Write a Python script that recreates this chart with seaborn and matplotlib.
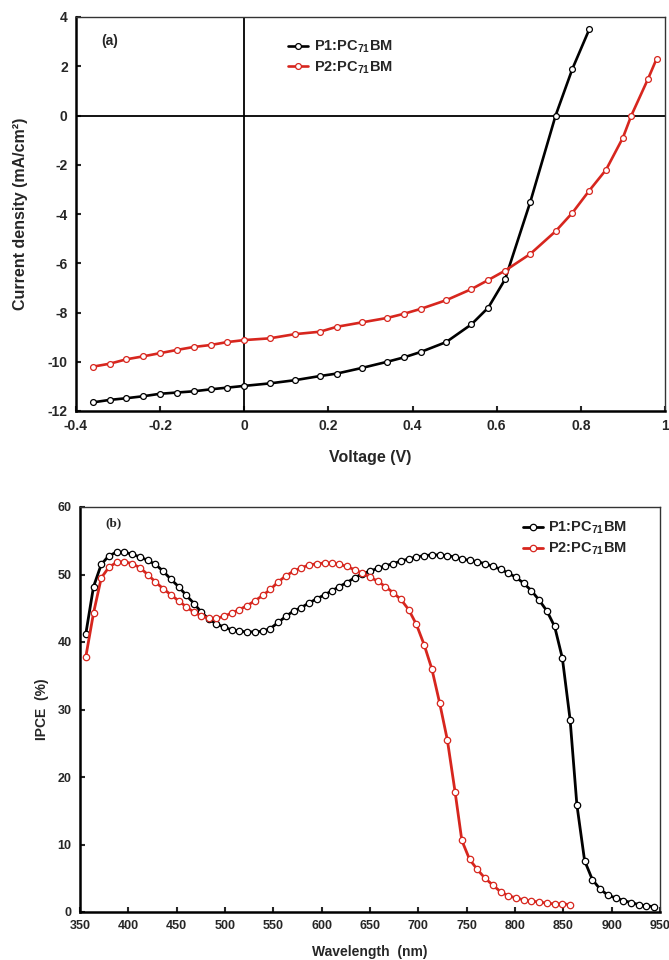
import numpy as np
import pandas as pd
import matplotlib
matplotlib.use("Agg")
import matplotlib.pyplot as plt
import seaborn as sns

# ---------------- data: J-V curves (panel a) ----------------
v_p1 = [-0.36, -0.32, -0.28, -0.24, -0.20, -0.16, -0.12, -0.08, -0.04, 0.00,
        0.06, 0.12, 0.18, 0.22, 0.28, 0.34, 0.38, 0.42, 0.48, 0.54,
        0.58, 0.62, 0.68, 0.74, 0.78, 0.82]
j_p1 = [-11.65, -11.55, -11.48, -11.40, -11.30, -11.25, -11.20, -11.12, -11.05, -10.98,
        -10.88, -10.75, -10.58, -10.48, -10.25, -10.00, -9.82, -9.60, -9.20, -8.48,
        -7.80, -6.65, -3.50, 0.00, 1.90, 3.50]

v_p2 = [-0.36, -0.32, -0.28, -0.24, -0.20, -0.16, -0.12, -0.08, -0.04, 0.00,
        0.06, 0.12, 0.18, 0.22, 0.28, 0.34, 0.38, 0.42, 0.48, 0.54,
        0.58, 0.62, 0.68, 0.74, 0.78, 0.82, 0.86, 0.90, 0.92, 0.96, 0.98]
j_p2 = [-10.20, -10.08, -9.90, -9.78, -9.65, -9.52, -9.40, -9.32, -9.20, -9.12,
        -9.05, -8.88, -8.78, -8.58, -8.40, -8.22, -8.05, -7.85, -7.50, -7.05,
        -6.68, -6.30, -5.62, -4.70, -3.95, -3.05, -2.20, -0.90, 0.00, 1.50, 2.30]

# ---------------- data: IPCE spectra (panel b) ----------------
wl_p1 = [356, 364, 372, 380, 388, 396, 404, 412, 420, 428, 436, 444, 452, 460, 468,
         475, 483, 491, 499, 507, 515, 523, 531, 539, 547, 555, 563, 571, 579, 587,
         595, 603, 611, 618, 626, 634, 642, 650, 658, 666, 674, 682, 690, 698, 706,
         714, 722, 730, 738, 745, 753, 761, 769, 777, 785, 793, 801, 809, 817, 825,
         833, 841, 849, 857, 864, 872, 880, 888, 896, 904, 912, 920, 928, 936, 944]
ipce_p1 = [41.2, 48.2, 51.5, 52.8, 53.3, 53.3, 53.0, 52.6, 52.1, 51.5, 50.5, 49.3, 48.2, 46.9, 45.7,
           44.5, 43.4, 42.7, 42.2, 41.8, 41.6, 41.5, 41.5, 41.6, 42.0, 42.9, 43.8, 44.6, 45.1, 45.8,
           46.4, 47.0, 47.6, 48.2, 48.8, 49.5, 50.1, 50.5, 50.9, 51.3, 51.6, 52.0, 52.3, 52.6, 52.8,
           52.9, 52.9, 52.8, 52.6, 52.3, 52.1, 51.9, 51.6, 51.2, 50.8, 50.2, 49.6, 48.7, 47.6, 46.2,
           44.6, 42.3, 37.6, 28.5, 15.9, 7.6, 4.8, 3.4, 2.5, 2.1, 1.7, 1.4, 1.1, 0.9, 0.8]

wl_p2 = [356, 364, 372, 380, 388, 396, 404, 412, 420, 428, 436, 444, 452, 460, 468,
         475, 483, 491, 499, 507, 515, 523, 531, 539, 547, 555, 563, 571, 579, 587,
         595, 603, 611, 618, 626, 634, 642, 650, 658, 666, 674, 682, 690, 698, 706,
         714, 722, 730, 738, 745, 753, 761, 769, 777, 785, 793, 801, 809, 817, 825,
         833, 841, 849, 857]
ipce_p2 = [37.8, 44.3, 49.5, 51.1, 51.8, 51.9, 51.6, 51.0, 50.0, 48.9, 47.9, 47.0, 46.1, 45.2, 44.4,
           43.9, 43.5, 43.5, 43.8, 44.3, 44.8, 45.4, 46.1, 46.9, 47.8, 48.9, 49.8, 50.5, 51.0, 51.4,
           51.6, 51.7, 51.7, 51.5, 51.2, 50.7, 50.2, 49.6, 49.0, 48.2, 47.3, 46.3, 44.8, 42.6, 39.6,
           36.0, 31.0, 25.5, 17.8, 10.6, 7.8, 6.3, 5.0, 4.0, 3.0, 2.4, 2.1, 1.8, 1.6, 1.5,
           1.3, 1.2, 1.2, 1.1]

labels = ["P1:PC$_{71}$BM", "P2:PC$_{71}$BM"]
colors = ["#000000", "#d7261e"]

xt_a = [-0.4, -0.2, 0, 0.2, 0.4, 0.6, 0.8, 1]
xt_a_lab = ["-0.4", "-0.2", "0", "0.2", "0.4", "0.6", "0.8", "1"]
yt_a = [-12, -10, -8, -6, -4, -2, 0, 2, 4]
xt_b = [350, 400, 450, 500, 550, 600, 650, 700, 750, 800, 850, 900, 950]
yt_b = [0, 10, 20, 30, 40, 50, 60]

# ---------------- style ----------------
sns.set_style("white")
plt.rcParams["font.family"] = ["Liberation Sans", "DejaVu Sans"]
plt.rcParams["font.weight"] = "bold"
plt.rcParams["axes.labelweight"] = "bold"
plt.rcParams["axes.unicode_minus"] = False
plt.rcParams["mathtext.fontset"] = "custom"
plt.rcParams["mathtext.rm"] = "Liberation Sans:bold"
plt.rcParams["mathtext.bf"] = "Liberation Sans:bold"
plt.rcParams["mathtext.it"] = "Liberation Sans:bold"
plt.rcParams["mathtext.default"] = "bf"

fig = plt.figure(figsize=(6.69, 9.6), dpi=100)
ax1 = fig.add_axes([76 / 669, 1 - 411 / 960, 589 / 669, 394 / 960])
ax2 = fig.add_axes([80 / 669, 1 - 912 / 960, 580 / 669, 405 / 960])

def style_axes(ax, fs):
    for s in ["left", "bottom"]:
        ax.spines[s].set_linewidth(1.8)
        ax.spines[s].set_color("black")
    for s in ["top", "right"]:
        ax.spines[s].set_linewidth(1.0)
        ax.spines[s].set_color("#333333")
    ax.tick_params(axis="both", which="major", direction="in", length=3.5, width=1.5,
                   labelsize=fs, pad=6, top=False, right=False, bottom=True, left=True)
    for t in ax.get_xticklabels() + ax.get_yticklabels():
        t.set_fontweight("bold")

# ---------------- panel a ----------------
df_a = pd.concat([
    pd.DataFrame({"V": v_p1, "J": j_p1, "s": labels[0]}),
    pd.DataFrame({"V": v_p2, "J": j_p2, "s": labels[1]}),
])
ax1.axhline(0, color="black", lw=1.3, zorder=1)
ax1.axvline(0, color="black", lw=1.3, zorder=1)
for lab, col in zip(labels, colors):
    d = df_a[df_a["s"] == lab]
    sns.lineplot(data=d, x="V", y="J", ax=ax1, color=col, lw=1.9, marker="o",
                 markersize=4.2, markerfacecolor="white", markeredgecolor=col,
                 markeredgewidth=0.9, estimator=None, sort=False, label=lab, zorder=3)
ax1.set_xlim(-0.4, 1.0)
ax1.set_ylim(-12, 4)
ax1.set_xticks(xt_a)
ax1.set_xticklabels(xt_a_lab)
ax1.set_yticks(yt_a)
style_axes(ax1, 10)
ax1.set_xlabel("Voltage (V)", fontsize=11.5, fontweight="bold")
ax1.set_ylabel("Current density (mA/cm²)", fontsize=11.5, fontweight="bold")
ax1.xaxis.set_label_coords(0.5, -0.099)
ax1.yaxis.set_label_coords(-0.081, 0.5)
ax1.text(0.043, 0.94, "(a)", transform=ax1.transAxes, fontsize=10, fontweight="bold",
         ha="left", va="center")
ax1.legend(loc="upper left", bbox_to_anchor=(0.36, 0.945), frameon=False, fontsize=10.5,
           handlelength=1.4, handletextpad=0.35, labelspacing=0.3, borderpad=0,
           borderaxespad=0)

# ---------------- panel b ----------------
df_b = pd.concat([
    pd.DataFrame({"wl": wl_p1, "ipce": ipce_p1, "s": labels[0]}),
    pd.DataFrame({"wl": wl_p2, "ipce": ipce_p2, "s": labels[1]}),
])
for lab, col in zip(labels, colors):
    d = df_b[df_b["s"] == lab]
    sns.lineplot(data=d, x="wl", y="ipce", ax=ax2, color=col, lw=2.0, marker="o",
                 markersize=4.6, markerfacecolor="white", markeredgecolor=col,
                 markeredgewidth=0.9, estimator=None, sort=False, label=lab, zorder=3)
ax2.set_xlim(350, 950)
ax2.set_ylim(0, 60)
ax2.set_xticks(xt_b)
ax2.set_yticks(yt_b)
style_axes(ax2, 9)
ax2.set_xlabel("Wavelength  (nm)", fontsize=10, fontweight="bold")
ax2.set_ylabel("IPCE  (%)", fontsize=10, fontweight="bold")
ax2.xaxis.set_label_coords(0.5, -0.081)
ax2.yaxis.set_label_coords(-0.053, 0.5)
ax2.text(0.043, 0.96, "(b)", transform=ax2.transAxes, fontsize=9.5, fontweight="bold",
         family=["Liberation Serif", "DejaVu Serif"], ha="left", va="center")
ax2.legend(loc="upper left", bbox_to_anchor=(0.763, 0.968), frameon=False, fontsize=10.5,
           handlelength=1.4, handletextpad=0.35, labelspacing=0.3, borderpad=0,
           borderaxespad=0)

fig.savefig("out.png", dpi=100)
